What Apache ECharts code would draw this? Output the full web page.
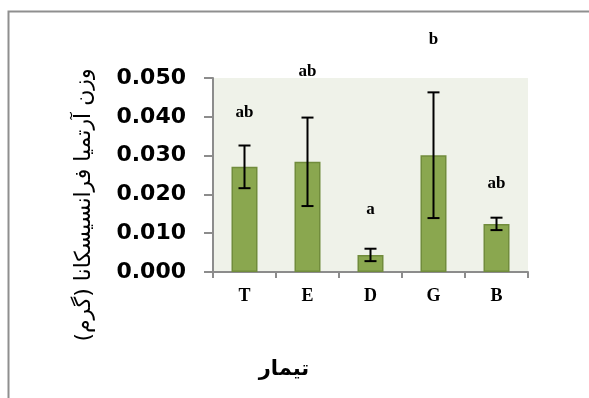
<!DOCTYPE html>
<html><head><meta charset="utf-8">
<script src="https://cdn.jsdelivr.net/npm/echarts@6/dist/echarts.min.js"></script>
<style>html,body{margin:0;padding:0;background:#fff}#c{width:589px;height:398px}</style>
</head><body><div id="c"></div>
<script>
const categories = ['T', 'E', 'D', 'G', 'B'];
const means = [0.0271, 0.0284, 0.0044, 0.0301, 0.0124];
const errors = [0.0055, 0.0114, 0.0016, 0.0162, 0.0016];
const letters = ['ab', 'ab', 'a', 'b', 'ab'];
const letterLevels = [0.0411, 0.0517, 0.0161, 0.0600, 0.0229];
const yTicks = [0, 0.01, 0.02, 0.03, 0.04, 0.05];
const yTitle = 'وزن آرتمیا فرانسیسکانا (گرم)';
const xTitle = 'تیمار';

const chart = echarts.init(document.getElementById('c'), null, {renderer: 'canvas'});
const errData = categories.map((c, i) => [i, means[i] - errors[i], means[i] + errors[i]]);
const letterData = categories.map((c, i) => [i, letterLevels[i], letters[i]]);

chart.setOption({
  animation: false,
  grid: {left: 213, right: 61, top: 78, bottom: 126, show: true, backgroundColor: '#eff2e9', borderWidth: 0},
  xAxis: {
    type: 'category', data: categories,
    axisLine: {lineStyle: {color: '#8c8c8c', width: 2}},
    axisTick: {show: true, length: 6, lineStyle: {color: '#8c8c8c', width: 2}},
    axisLabel: {margin: 15, color: '#000', fontFamily: 'Liberation Serif', fontWeight: 'bold', fontSize: 18},
    splitLine: {show: false}
  },
  yAxis: {
    type: 'value', min: yTicks[0], max: yTicks[yTicks.length - 1], interval: 0.01,
    axisLine: {show: true, lineStyle: {color: '#8c8c8c', width: 2}},
    axisTick: {show: true, length: 9, lineStyle: {color: '#8c8c8c', width: 2}},
    axisLabel: {margin: 27, color: '#000', fontFamily: 'DejaVu Sans', fontWeight: 'bold', fontSize: 22,
      formatter: v => v.toFixed(3)},
    splitLine: {show: false}
  },
  series: [
    {
      type: 'bar', data: means, barWidth: 26,
      itemStyle: {color: '#8aa74f', borderColor: '#718c3c', borderWidth: 1.5}
    },
    {
      type: 'custom', data: errData, z: 5,
      renderItem: (params, api) => {
        const x = api.value(0);
        const lo = api.coord([x, api.value(1)]);
        const hi = api.coord([x, api.value(2)]);
        const w = 6;
        const st = {stroke: '#000', lineWidth: 2};
        return {type: 'group', children: [
          {type: 'line', shape: {x1: lo[0], y1: lo[1], x2: hi[0], y2: hi[1]}, style: st},
          {type: 'line', shape: {x1: lo[0] - w, y1: lo[1], x2: lo[0] + w, y2: lo[1]}, style: st},
          {type: 'line', shape: {x1: hi[0] - w, y1: hi[1], x2: hi[0] + w, y2: hi[1]}, style: st}
        ]};
      }
    },
    {
      type: 'custom', data: letterData, z: 6, clip: false,
      renderItem: (params, api) => {
        const p = api.coord([api.value(0), api.value(1)]);
        return {type: 'text', x: p[0], y: p[1], style: {
          text: letters[params.dataIndex], fill: '#000', font: 'bold 17px "Liberation Serif"',
          align: 'center', verticalAlign: 'middle'}};
      }
    }
  ],
  graphic: [
    {type: 'rect', left: 6, top: 9, shape: {width: 640, height: 440}, style: {fill: 'none', stroke: '#8f8f8f', lineWidth: 2}, z: -1},
    {type: 'text', x: 84, y: 205, rotation: Math.PI / 2, style: {text: yTitle, font: '22px "DejaVu Sans"', fill: '#000', align: 'center', verticalAlign: 'middle'}},
    {type: 'text', x: 284, y: 370, style: {text: xTitle, font: 'bold 21px "DejaVu Sans"', fill: '#000', align: 'center', verticalAlign: 'middle'}}
  ]
});
</script></body></html>
